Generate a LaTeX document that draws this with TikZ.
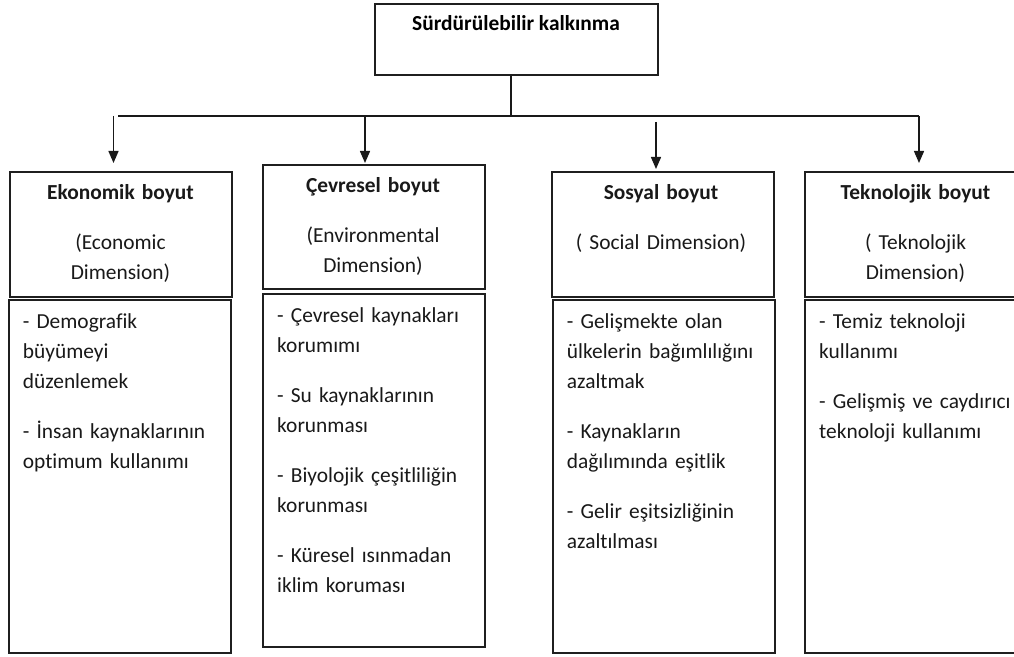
\documentclass[tikz,border=0pt]{standalone}
\usepackage{fontspec}
\setmainfont{Carlito}[Ligatures=NoCommon]
\usetikzlibrary{arrows.meta}
\newcommand\bodyfont{\fontsize{21.4bp}{30bp}\selectfont}
\begin{document}
\begin{tikzpicture}[x=1bp,y=-1bp,
  frame/.style={draw=black!88, line width=1.6bp, inner sep=0pt, anchor=north west,
                minimum width=222bp},
  headtext/.style={inner sep=0pt, anchor=north, align=center, text width=210bp,
                   font=\bodyfont, text=black!90},
  listtext/.style={inner sep=0pt, anchor=north west, align=left, text width=210bp,
                   font=\bodyfont, text=black!90},
  link/.style={draw=black!90, line width=1.4bp},
  arr/.style={link, -{Triangle[length=12bp,width=10bp]}}]
\clip (0,0) rectangle (1014,657);
\fill[white] (0,0) rectangle (1014,657);

% root
\node[frame, minimum width=283bp, minimum height=71bp] (top) at (374,3) {};
\node[inner sep=0pt, anchor=base, font=\bodyfont\bfseries] (toptext) at (516,31)
  {Sürdürülebilir kalkınma};

% branching lines
\coordinate (split) at (511,116);
\coordinate (hl) at (118,116);
\coordinate (hr) at (919,116);
\coordinate (b1) at (113.5,116);
\coordinate (b2) at (365,116);
\coordinate (b3) at (656,122);
\coordinate (b4) at (919,116);

% header boxes
\node[frame, minimum height=125bp] (ekoH) at (9,171) {};
\node[frame, minimum height=124bp] (cevH) at (262,164) {};
\node[frame, minimum height=125bp] (sosH) at (551,171) {};
\node[frame, minimum height=125bp] (tekH) at (804,171) {};

% content boxes
\node[frame, minimum height=353bp] (ekoB) at (8,299) {};
\node[frame, minimum height=353bp] (cevB) at (262,293) {};
\node[frame, minimum height=353bp] (sosB) at (552,299) {};
\node[frame, minimum height=353bp] (tekB) at (804,299) {};

\draw[link] (top.south -| split) -- (split);
\draw[link] (hl) -- (hr);
\draw[arr, shorten >=8bp] (b1) -- (b1 |- ekoH.north);
\draw[arr, shorten >=1bp] (b2) -- (b2 |- cevH.north);
\draw[arr, shorten >=2bp] (b3) -- (b3 |- sosH.north);
\draw[arr, shorten >=8bp] (b4) -- (b4 |- tekH.north);

% header texts
\node[headtext] (ekoHt) at (120.5,178)
  {\strut\textbf{Ekonomik boyut}\\[20bp](Economic\\Dimension)};
\node[headtext] (cevHt) at (373,171)
  {\strut\textbf{Çevresel boyut}\\[20bp](Environmental\\Dimension)};
\node[headtext] (sosHt) at (661,178)
  {\strut\textbf{Sosyal boyut}\\[20bp]( Social Dimension)};
\node[headtext] (tekHt) at (915.5,178)
  {\strut\textbf{Teknolojik boyut}\\[20bp]( Teknolojik\\Dimension)};

% item lists
\node[listtext] (ekoBt) at (22.7,307)
  {\strut- Demografik\\büyümeyi\\düzenlemek\\[20bp]- İnsan kaynaklarının\\optimum kullanımı};
\node[listtext] (cevBt) at (277,301)
  {\strut- Çevresel kaynakları\\korumımı\\[20bp]- Su kaynaklarının\\korunması\\[20bp]- Biyolojik çeşitliliğin\\korunması\\[20bp]- Küresel ısınmadan\\iklim koruması};
\node[listtext] (sosBt) at (566.7,307)
  {\strut- Gelişmekte olan\\ülkelerin bağımlılığını\\azaltmak\\[20bp]- Kaynakların\\dağılımında eşitlik\\[20bp]- Gelir eşitsizliğinin\\azaltılması};
\node[listtext] (tekBt) at (819,307)
  {\strut- Temiz teknoloji\\kullanımı\\[20bp]- Gelişmiş ve caydırıcı\\teknoloji kullanımı};
\end{tikzpicture}
\end{document}
